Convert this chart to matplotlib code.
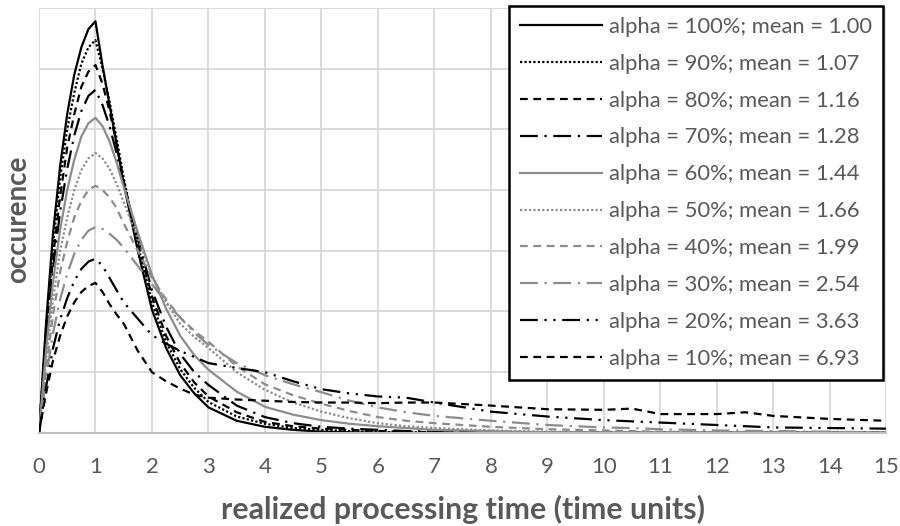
import numpy as np
import matplotlib
matplotlib.use('Agg')
from matplotlib import pyplot as plt

# common x grid (time units)
x = [0, 0.125, 0.25, 0.375, 0.5, 0.625, 0.75, 0.875, 1, 1.125, 1.25, 1.375, 1.5, 1.75,
     2, 2.25, 2.5, 2.75, 3, 3.5, 4, 4.5, 5, 5.5, 6, 6.5, 7, 8, 9, 10, 10.5, 11, 12, 12.5,
     13, 14, 15]

a100 = [0, 1.8, 3.3, 4.4, 5.25, 5.9, 6.35, 6.65, 6.78, 6.05, 5.4, 4.75, 4.1, 3.0,
        2.03, 1.4, 0.95, 0.65, 0.42, 0.2, 0.1, 0.05, 0.02, 0.01, 0.005, 0, 0, 0, 0, 0, 0,
        0, 0, 0, 0, 0, 0]
a90 = [0, 1.7, 3.1, 4.2, 5.0, 5.6, 6.08, 6.35, 6.47, 6.0, 5.45, 4.85, 4.2, 3.1,
       2.15, 1.5, 1.05, 0.74, 0.51, 0.27, 0.15, 0.08, 0.05, 0.03, 0.015, 0.01, 0.005, 0, 0,
       0, 0, 0, 0, 0, 0, 0, 0]
a80 = [0, 1.6, 2.9, 3.9, 4.7, 5.25, 5.7, 5.95, 6.06, 5.75, 5.3, 4.75, 4.15, 3.15,
       2.25, 1.6, 1.15, 0.83, 0.6, 0.34, 0.18, 0.11, 0.07, 0.05, 0.03, 0.02, 0.01, 0, 0, 0,
       0, 0, 0, 0, 0, 0, 0]
a70 = [0, 1.5, 2.7, 3.65, 4.35, 4.9, 5.3, 5.55, 5.65, 5.4, 5.05, 4.6, 4.1, 3.2,
       2.35, 1.75, 1.3, 1.0, 0.79, 0.45, 0.26, 0.16, 0.1, 0.07, 0.05, 0.03, 0.02, 0.01, 0,
       0, 0, 0, 0, 0, 0, 0, 0]
a60 = [0, 1.35, 2.5, 3.35, 4.0, 4.5, 4.88, 5.1, 5.19, 5.05, 4.8, 4.45, 4.05, 3.3,
       2.6, 2.05, 1.6, 1.28, 1.04, 0.68, 0.43, 0.3, 0.21, 0.15, 0.11, 0.08, 0.05, 0.03,
       0.01, 0, 0, 0, 0, 0, 0, 0, 0]
a50 = [0, 1.2, 2.2, 3.0, 3.55, 4.0, 4.33, 4.52, 4.61, 4.52, 4.35, 4.1, 3.8, 3.2,
       2.6, 2.15, 1.8, 1.58, 1.4, 1.0, 0.71, 0.5, 0.35, 0.24, 0.16, 0.11, 0.08, 0.04, 0.02,
       0.01, 0, 0, 0, 0, 0, 0, 0]
a40 = [0, 1.05, 1.95, 2.65, 3.15, 3.55, 3.82, 4.0, 4.07, 4.0, 3.88, 3.7, 3.45, 3.0,
       2.55, 2.2, 1.9, 1.68, 1.5, 1.1, 0.8, 0.62, 0.48, 0.36, 0.26, 0.2, 0.16, 0.1, 0.06,
       0.04, 0.03, 0.02, 0.01, 0.01, 0, 0, 0]
a30 = [0, 0.9, 1.65, 2.2, 2.62, 2.95, 3.18, 3.33, 3.39, 3.36, 3.28, 3.18, 3.05, 2.75,
       2.45, 2.15, 1.9, 1.65, 1.45, 1.15, 0.95, 0.8, 0.67, 0.53, 0.42, 0.34, 0.28, 0.2,
       0.13, 0.09, 0.08, 0.06, 0.04, 0.035, 0.03, 0.02, 0.01]
a20 = [0, 0.75, 1.4, 1.87, 2.22, 2.5, 2.7, 2.82, 2.87, 2.75, 2.55, 2.35, 2.15, 1.88,
       1.61, 1.47, 1.35, 1.25, 1.15, 1.07, 1.0, 0.85, 0.72, 0.65, 0.6, 0.58, 0.5, 0.35,
       0.27, 0.21, 0.19, 0.17, 0.13, 0.11, 0.09, 0.08, 0.07]
a10 = [0, 0.65, 1.2, 1.6, 1.92, 2.15, 2.32, 2.42, 2.47, 2.32, 2.12, 1.95, 1.8, 1.35,
       1.0, 0.85, 0.73, 0.63, 0.58, 0.55, 0.53, 0.51, 0.5, 0.5, 0.49, 0.5, 0.5, 0.45,
       0.39, 0.38, 0.4, 0.31, 0.31, 0.34, 0.28, 0.23, 0.2]

labels = ['alpha = 100%; mean = 1.00', 'alpha = 90%; mean = 1.07', 'alpha = 80%; mean = 1.16',
          'alpha = 70%; mean = 1.28', 'alpha = 60%; mean = 1.44', 'alpha = 50%; mean = 1.66',
          'alpha = 40%; mean = 1.99', 'alpha = 30%; mean = 2.54', 'alpha = 20%; mean = 3.63',
          'alpha = 10%; mean = 6.93']
series = [a100, a90, a80, a70, a60, a50, a40, a30, a20, a10]

blk = '#000000'
gry = '#8c8c8c'
colors = [blk, blk, blk, blk, gry, gry, gry, gry, blk, blk]
styles = ['-', (0, (1, 1)), (0, (3.5, 2.5)), (0, (8, 3, 1, 3)), '-', (0, (1, 1)),
          (0, (3.5, 2.5)), (0, (8, 3, 1, 3)), (0, (8, 3, 1, 3, 1, 3)), (0, (3.5, 2.5))]

plt.rcParams['font.family'] = ['Lato', 'DejaVu Sans']

fig = plt.figure(figsize=(9, 5.26), dpi=100)
ax = fig.add_axes([0.0433, 0.177, 0.9415, 0.808])

for ys, lab, c, ls in zip(series, labels, colors, styles):
    ax.plot(x, ys, color=c, linestyle=ls, linewidth=1.6, label=lab)

ax.set_xlim(0, 15)
ax.set_ylim(0, 7)
ax.set_xticks(range(16))
ax.set_yticks(range(8))
ax.set_yticklabels([])
ax.grid(True, color='#d9d9d9', linewidth=1.3)
ax.set_axisbelow(True)
ax.tick_params(length=0, labelsize=16, labelcolor='#595959', pad=17)
for s in ['top', 'right', 'left']:
    ax.spines[s].set_visible(False)
ax.spines['bottom'].set_color('#bfbfbf')
ax.spines['bottom'].set_linewidth(1.5)

ax.set_xlabel('realized processing time (time units)', fontsize=21.8, fontweight='bold',
              color='#595959', labelpad=13)
fig.text(18 / 900, 1 - 219 / 526, 'occurence', rotation=90, ha='center', va='center',
         fontsize=20, fontweight='bold', color='#595959')

leg = ax.legend(loc='upper right', bbox_to_anchor=(0.981, 0.989), bbox_transform=fig.transFigure,
                fontsize=15.8, handlelength=3.75, handletextpad=0.3, labelspacing=0.77,
                fancybox=False, framealpha=1, borderpad=0.5, borderaxespad=0)
leg.get_frame().set_edgecolor('black')
leg.get_frame().set_linewidth(1.8)
for t in leg.get_texts():
    t.set_color('#595959')

fig.savefig('out.png', dpi=100)
